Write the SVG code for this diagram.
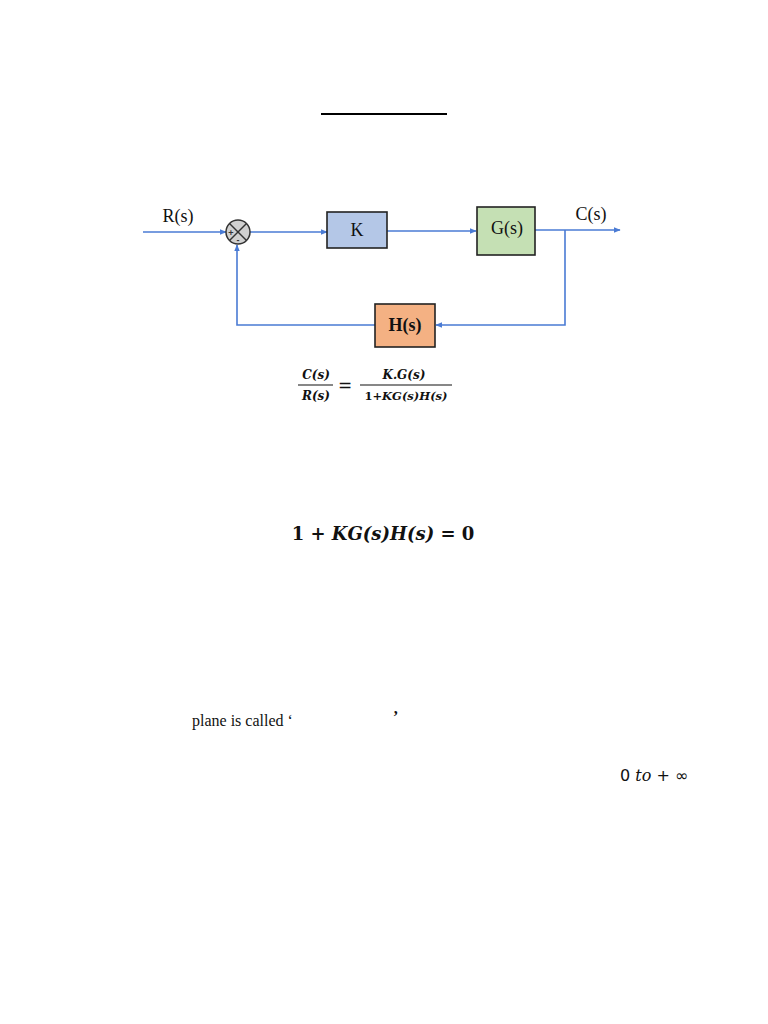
<svg xmlns="http://www.w3.org/2000/svg" width="768" height="1024" viewBox="0 0 768 1024">
<defs>
<style>
.wire{stroke:#4a7bd4;stroke-width:1.6;fill:none}
.blk{stroke:#222;stroke-width:1.6}
.lbl{font-family:"Liberation Serif","DejaVu Serif",serif;font-size:18px;fill:#111}
.math{font-family:"DejaVu Serif","Liberation Serif",serif;font-weight:bold;font-style:italic;fill:#111}
.up{font-style:normal}
.txt{font-family:"Liberation Serif","DejaVu Serif",serif;font-size:16px;fill:#111}
</style>
<marker id="arr" viewBox="0 0 10 10" refX="9" refY="5" markerWidth="7" markerHeight="7" orient="auto" markerUnits="userSpaceOnUse">
<path d="M0,1 L10,5 L0,9 z" fill="#4a7bd4"/>
</marker>
</defs>
<rect width="768" height="1024" fill="#fff"/>
<line x1="321" y1="114" x2="447" y2="114" stroke="#000" stroke-width="2"/>

<g id="connectors">
<line class="wire" x1="143" y1="232" x2="226" y2="232" marker-end="url(#arr)"/>
<line class="wire" x1="250" y1="232" x2="327" y2="232" marker-end="url(#arr)"/>
<line class="wire" x1="387" y1="231" x2="476" y2="231" marker-end="url(#arr)"/>
<line class="wire" x1="535" y1="230" x2="620" y2="230" marker-end="url(#arr)"/>
<polyline class="wire" points="565,230 565,325 436,325" marker-end="url(#arr)"/>
<polyline class="wire" points="375,325 237,325 237,245" marker-end="url(#arr)"/>
</g>

<g id="sum">
<circle cx="238" cy="232" r="12" fill="#d0d0d0" stroke="#333" stroke-width="1.5"/>
<line x1="229.5" y1="223.5" x2="246.5" y2="240.5" stroke="#333" stroke-width="1.5"/>
<line x1="246.5" y1="223.5" x2="229.5" y2="240.5" stroke="#333" stroke-width="1.5"/>
<text x="231" y="235.5" font-family="Liberation Sans,sans-serif" font-size="9" font-weight="bold" fill="#333" text-anchor="middle">+</text>
<text x="238" y="243" font-family="Liberation Sans,sans-serif" font-size="9" font-weight="bold" fill="#333" text-anchor="middle">-</text>
</g>
<g id="inlabel"><text class="lbl" x="178" y="222" text-anchor="middle">R(s)</text></g>
<g id="outlabel"><text class="lbl" x="591" y="220" text-anchor="middle">C(s)</text></g>

<g id="K">
<rect class="blk" x="327" y="212" width="60" height="36" fill="#b4c7e7"/>
<text class="lbl" x="357" y="236" text-anchor="middle" font-size="17">K</text>
</g>
<g id="G">
<rect class="blk" x="477" y="207" width="58" height="48" fill="#c5e0b4"/>
<text class="lbl" x="507" y="234" text-anchor="middle" font-size="17">G(s)</text>
</g>
<g id="H">
<rect class="blk" x="375" y="304" width="60" height="43" fill="#f4b183"/>
<text class="lbl" x="405" y="331" text-anchor="middle" font-weight="bold" font-size="17">H(s)</text>
</g>

<g id="formula">
<text class="math" x="316" y="379" font-size="12" text-anchor="middle">C(s)</text>
<line x1="298" y1="385" x2="333" y2="385" stroke="#111" stroke-width="1.2"/>
<text class="math" x="316" y="400" font-size="12" text-anchor="middle">R(s)</text>
<text x="345" y="391" font-family="DejaVu Sans,sans-serif" font-size="17" fill="#111" text-anchor="middle">=</text>
<text class="math" x="404" y="379" font-size="12" text-anchor="middle">K.G(s)</text>
<line x1="360" y1="385" x2="452" y2="385" stroke="#111" stroke-width="1.2"/>
<text class="math" x="406" y="400" font-size="11.5" text-anchor="middle"><tspan class="up">1+</tspan>KG(s)H(s)</text>
</g>

<g id="eq2">
<text class="math" x="383" y="540" font-size="18" text-anchor="middle"><tspan class="up">1 + </tspan>KG(s)H(s)<tspan class="up"> = 0</tspan></text>
</g>

<text class="txt" x="192" y="726">plane is called ‘</text>
<text class="txt" x="393" y="722" font-weight="bold">’</text>
<text x="620" y="781" font-family="DejaVu Sans,sans-serif" font-size="16" fill="#111">0 <tspan font-style="italic" font-family="DejaVu Serif,serif">to</tspan> + ∞</text>
</svg>
